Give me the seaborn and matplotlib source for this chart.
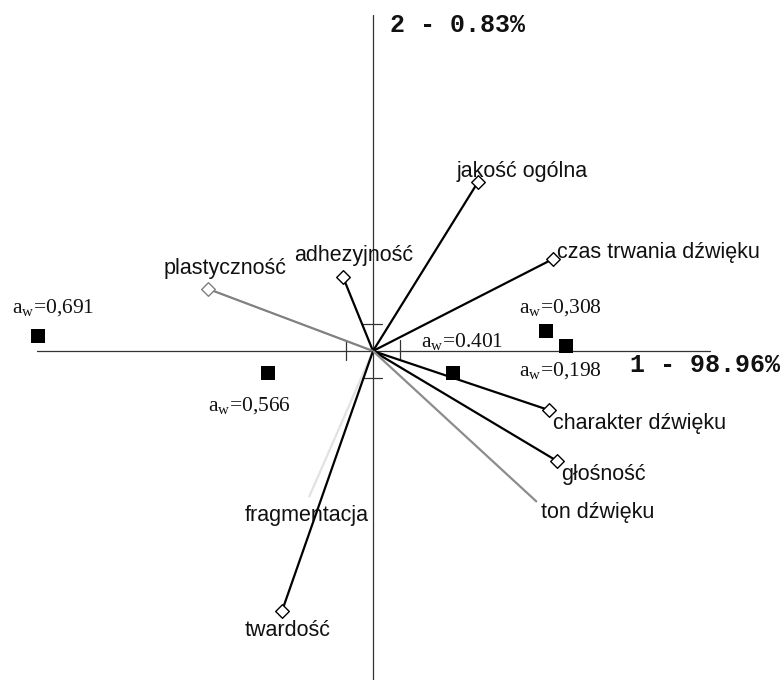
import matplotlib
matplotlib.use("Agg")
import matplotlib.pyplot as plt
import seaborn as sns
import pandas as pd

sns.set_theme(style="white")
plt.rcParams["font.family"] = ["Liberation Sans", "DejaVu Sans"]

# Variable loadings (biplot arrows)
variables = ["jakość ogólna", "czas trwania dźwięku", "adhezyjność", "plastyczność",
             "fragmentacja", "twardość", "charakter dźwięku", "głośność", "ton dźwięku"]
load_x = [0.389, 0.667, -0.111, -0.611, -0.237, -0.337, 0.652, 0.681, 0.607]
load_y = [0.626, 0.341, 0.274, 0.230, -0.541, -0.963, -0.219, -0.407, -0.559]

# Sample scores with water activity labels
aw_labels = ["0,691", "0,566", "0.401", "0,308", "0,198"]
score_x = [-1.241, -0.389, 0.296, 0.641, 0.715]
score_y = [0.056, -0.081, -0.081, 0.074, 0.019]

axis1_title = "1 - 98.96%"
axis2_title = "2 - 0.83%"

line_colors = ["black", "black", "black", "#808080", "#e2e2e2", "black", "black", "black", "#8c8c8c"]
marker_edges = ["black", "black", "black", "#808080", None, "black", "black", "black", None]
label_offsets = [(-21, 10), (4, 6), (-49, 22), (-44, 20), (-64, -18), (-37, -19), (4, -13), (4, -14), (4, -11)]
aw_offsets = [(-26, 27), (-60, -34), (-32, 31), (-27, 23), (-47, -26)]

fig = plt.figure(figsize=(7.8, 6.8), dpi=100)
ax = fig.add_axes([0, 0, 1, 1])
ax.set_xlim(-373 / 270, 407 / 270)
ax.set_ylim(-329 / 270, 351 / 270)
ax.axis("off")

# Coordinate axes with small ticks at +-0.1
ax.plot([-1.244, 1.248], [0, 0], color="#333333", lw=0.9, zorder=1)
ax.plot([0, 0], [-1.25, 1.244], color="#333333", lw=0.9, zorder=1)
for t in (-0.1, 0.1):
    ax.plot([t, t], [-0.035, 0.04], color="#333333", lw=0.9, zorder=1)
    ax.plot([-0.04, 0.035], [t, t], color="#333333", lw=0.9, zorder=1)

# Arrows from origin to each variable
for vx, vy, c in zip(load_x, load_y, line_colors):
    ax.plot([0, vx], [0, vy], color=c, lw=1.6, zorder=2, solid_capstyle="butt")

load_df = pd.DataFrame({"x": load_x, "y": load_y, "edge": marker_edges})
shown = load_df[load_df["edge"].notna()]
for edge, grp in shown.groupby("edge"):
    sns.scatterplot(data=grp, x="x", y="y", marker="D", s=48, facecolor="white",
                    edgecolor=edge, linewidth=1.0, ax=ax, zorder=3, legend=False)

for name, vx, vy, off in zip(variables, load_x, load_y, label_offsets):
    ax.annotate(name, (vx, vy), xytext=off, textcoords="offset pixels",
                ha="left", va="center", fontsize=15.5, color="#111111", zorder=4)

score_df = pd.DataFrame({"x": score_x, "y": score_y})
sns.scatterplot(data=score_df, x="x", y="y", marker="s", s=110, color="black",
                edgecolor="black", linewidth=0, ax=ax, zorder=5, legend=False)

for lab, sx, sy, off in zip(aw_labels, score_x, score_y, aw_offsets):
    ax.annotate(r"a$_\mathregular{w}$=" + lab, (sx, sy), xytext=off, textcoords="offset pixels",
                ha="left", va="center", fontsize=15.5, family="Liberation Serif", color="#111111", zorder=4)

ax.set_xlabel("")
ax.set_ylabel("")

fig.text(630 / 780, 1 - 365 / 680, axis1_title, ha="left", va="center", fontsize=18,
         family="Liberation Mono", fontweight="bold", color="#111111")
fig.text(390 / 780, 1 - 25 / 680, axis2_title, ha="left", va="center", fontsize=18,
         family="Liberation Mono", fontweight="bold", color="#111111")

fig.savefig("out.png", dpi=100, facecolor="white")
